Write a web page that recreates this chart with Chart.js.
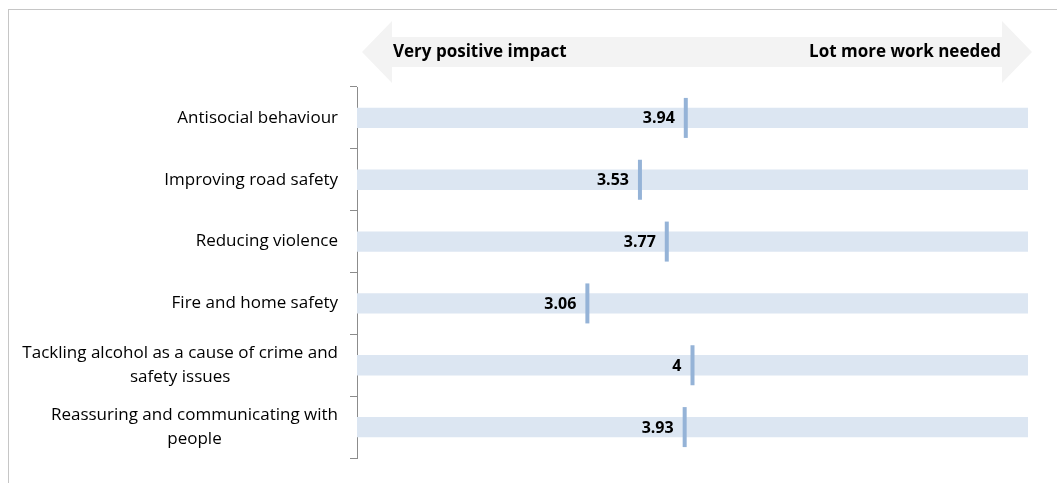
<!DOCTYPE html>
<html>
<head>
<meta charset="utf-8">
<script src="https://cdn.jsdelivr.net/npm/chart.js@4"></script>
<style>
  html, body { margin: 0; padding: 0; background: #fff; }
  #wrap { position: relative; width: 1057px; height: 483px; }
  #frame { position: absolute; left: 8px; top: 9px; right: 0; bottom: -2px;
           border-top: 1px solid #c6c6c6; border-left: 1px solid #c6c6c6; }
  canvas { position: absolute; left: 0; top: 0; }
</style>
</head>
<body>
<div id="wrap">
  <div id="frame"></div>
  <canvas id="chart" width="1057" height="483"></canvas>
</div>
<script>
// categories and scores (1 = very positive impact, 7 = lot more work needed)
const categories = [
  ['Antisocial behaviour'],
  ['Improving road safety'],
  ['Reducing violence'],
  ['Fire and home safety'],
  ['Tackling alcohol as a cause of crime and', 'safety issues'],
  ['Reassuring and communicating with', 'people']
];
const scores = [3.94, 3.53, 3.77, 3.06, 4, 3.93];
const scaleMin = 1;
const scaleMax = 7;
const leftLabel = 'Very positive impact';
const rightLabel = 'Lot more work needed';

const keys = categories.map(c => c.join(' '));

// draws category labels, value labels and the header arrow
const decorations = {
  id: 'decorations',
  afterDatasetsDraw(chart) {
    const ctx = chart.ctx;
    const area = chart.chartArea;
    const y = chart.scales.y;
    const x = chart.scales.x;

    // header double arrow
    const l = area.left + 5, r = area.right + 4;
    const cy = 52, shaft = 15, head = 31, headLen = 30;
    ctx.save();
    ctx.fillStyle = '#f3f3f3';
    ctx.beginPath();
    ctx.moveTo(l, cy);
    ctx.lineTo(l + headLen, cy - head);
    ctx.lineTo(l + headLen, cy - shaft);
    ctx.lineTo(r - headLen, cy - shaft);
    ctx.lineTo(r - headLen, cy - head);
    ctx.lineTo(r, cy);
    ctx.lineTo(r - headLen, cy + head);
    ctx.lineTo(r - headLen, cy + shaft);
    ctx.lineTo(l + headLen, cy + shaft);
    ctx.lineTo(l + headLen, cy + head);
    ctx.closePath();
    ctx.fill();
    ctx.fillStyle = '#000';
    ctx.font = 'bold 17px "Open Sans", sans-serif';
    ctx.textBaseline = 'middle';
    ctx.textAlign = 'left';
    ctx.fillText(leftLabel, l + headLen + 1, cy);
    ctx.textAlign = 'right';
    ctx.fillText(rightLabel, r - headLen - 1, cy);

    // category labels, right aligned block with centred lines
    ctx.font = '17px "Open Sans", sans-serif';
    ctx.fillStyle = '#000';
    ctx.textAlign = 'center';
    const lineH = 24;
    categories.forEach((lines, i) => {
      const py = y.getPixelForValue(i);
      const w = Math.max(...lines.map(s => ctx.measureText(s).width));
      const cx = area.left - 19 - w / 2;
      lines.forEach((s, j) => {
        ctx.fillText(s, cx, py + (j - (lines.length - 1) / 2) * lineH);
      });
    });

    // value labels beside each marker
    ctx.font = 'bold 16px "Open Sans", sans-serif';
    ctx.textAlign = 'right';
    scores.forEach((v, i) => {
      ctx.fillText(String(v), x.getPixelForValue(v) - 11, y.getPixelForValue(i) + 1);
    });
    ctx.restore();
  }
};

new Chart(document.getElementById('chart'), {
  data: {
    labels: keys,
    datasets: [
      {
        type: 'bar',
        data: keys.map(() => [scaleMin, scaleMax]),
        backgroundColor: '#dce6f2',
        barPercentage: 0.33,
        categoryPercentage: 1,
        grouped: false,
        order: 2
      },
      {
        type: 'line',
        data: scores.map((v, i) => ({ x: v, y: keys[i] })),
        showLine: false,
        pointStyle: 'line',
        rotation: 90,
        pointRadius: 20,
        pointHoverRadius: 20,
        borderColor: '#95b3d7',
        pointBorderWidth: 4,
        order: 1
      }
    ]
  },
  options: {
    indexAxis: 'y',
    responsive: false,
    animation: false,
    events: [],
    layout: { padding: { top: 87, bottom: 25, right: 29, left: 0 } },
    plugins: { legend: { display: false }, tooltip: { enabled: false } },
    scales: {
      x: { type: 'linear', min: scaleMin, max: scaleMax, display: false },
      y: {
        type: 'category',
        offset: true,
        afterFit(scale) { scale.width = 357; },
        ticks: { display: false },
        grid: { drawOnChartArea: false, drawTicks: true, tickLength: 7, offset: true, color: '#8c8c8c' },
        border: { display: true, color: '#8c8c8c' }
      }
    }
  },
  plugins: [decorations]
});
</script>
</body>
</html>
